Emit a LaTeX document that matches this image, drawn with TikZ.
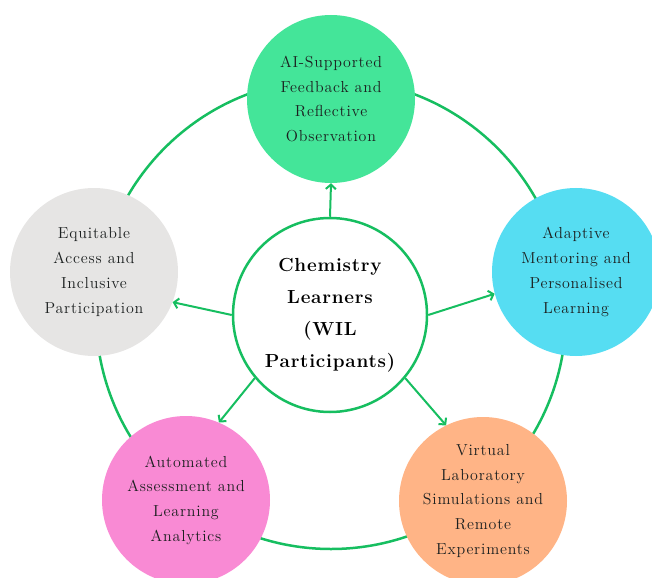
\documentclass[tikz,border=0pt]{standalone}
\usepackage{fontspec}
\usetikzlibrary{arrows.meta}
% spaced-out Latin Modern for the labels
\newfontfamily\topicfont{lmroman12-regular.otf}[LetterSpace=5]
\newfontfamily\hubfont{lmroman12-bold.otf}[LetterSpace=4]
\definecolor{ringgreen}{RGB}{22,190,96}
\definecolor{feedbackgreen}{RGB}{68,229,153}
\definecolor{mentorcyan}{RGB}{86,221,242}
\definecolor{labpeach}{RGB}{255,180,134}
\definecolor{analyticspink}{RGB}{249,138,212}
\definecolor{accessgray}{RGB}{230,229,228}
\definecolor{labeltext}{RGB}{28,32,32}
\tikzset{
	topic/.style={circle, inner sep=0pt, minimum size=168bp, align=center, text=labeltext,
		font=\topicfont\fontsize{16}{24.8}\selectfont},
	hub/.style={circle, draw=ringgreen, line width=2.5bp, fill=white, minimum size=194bp,
		inner sep=0pt, align=center, font=\hubfont\fontsize{19}{32}\selectfont},
	spoke/.style={draw=ringgreen, line width=2bp, -{Straight Barb[length=4.5bp,width=10bp]}}
}

\begin{document}
\begin{tikzpicture}[x=1bp, y=-1bp]
	\useasboundingbox (0,0) rectangle (652,578);
	\clip (0,0) rectangle (652,578);
	% outer ring behind everything
	\draw[ringgreen, line width=2.5bp] (331,314) circle (235);
	% the five topics
	\node[topic, fill=feedbackgreen] (feedback) at (331,99) {AI-Supported\\Feedback and\\Reflective\\Observation};
	\node[topic, fill=mentorcyan] (mentoring) at (576,272) {Adaptive\\Mentoring and\\Personalised\\Learning};
	\node[topic, fill=accessgray] (access) at (94,272) {Equitable\\Access and\\Inclusive\\Participation};
	\node[topic, fill=analyticspink] (analytics) at (186,500) {Automated\\Assessment and\\Learning\\Analytics};
	\node[topic, fill=labpeach] (virtuallab) at (483,501) {Virtual\\Laboratory\\Simulations and\\Remote\\Experiments};
	% learners in the middle
	\node[hub] (learners) at (330,315) {Chemistry\\Learners\\(WIL\\Participants)};
	\draw[spoke] (learners.north) -- (feedback.south);
	\draw[spoke] (learners.east) -- (mentoring.195);
	\draw[spoke] (learners.west) -- (access.-21);
	\draw[spoke] (learners.220) -- (analytics.67);
	\draw[spoke] (learners.320) -- (virtuallab.116);
\end{tikzpicture}
\end{document}
